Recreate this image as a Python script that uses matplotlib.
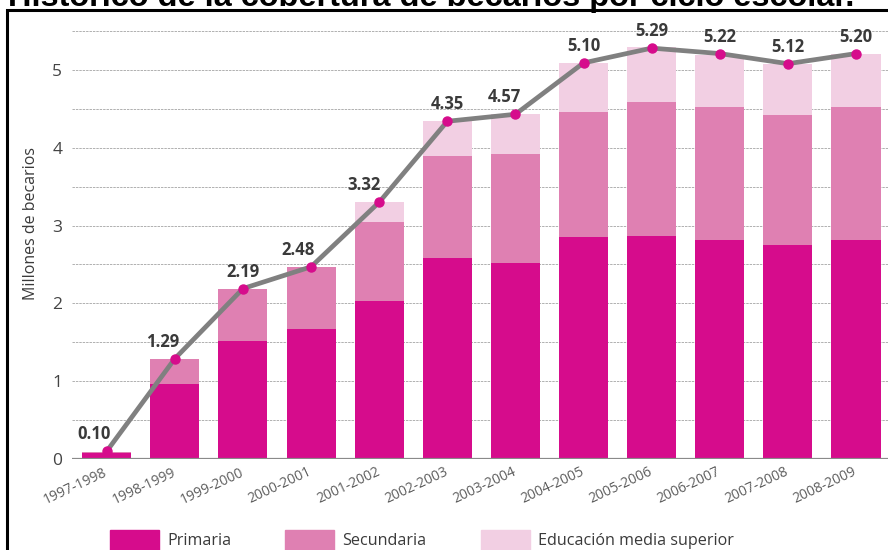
import numpy as np
import matplotlib
matplotlib.use("Agg")
import matplotlib.pyplot as plt
from matplotlib.patches import Rectangle, Patch

# Datos (millones de becarios por ciclo escolar)
ciclos = ["1997-1998", "1998-1999", "1999-2000", "2000-2001", "2001-2002", "2002-2003",
          "2003-2004", "2004-2005", "2005-2006", "2006-2007", "2007-2008", "2008-2009"]
primaria = [0.08, 0.96, 1.52, 1.67, 2.03, 2.58, 2.52, 2.85, 2.86, 2.82, 2.75, 2.82]
secundaria = [0.01, 0.33, 0.67, 0.80, 1.02, 1.31, 1.40, 1.61, 1.73, 1.70, 1.67, 1.70]
media_superior = [0.00, 0.00, 0.00, 0.00, 0.25, 0.45, 0.51, 0.63, 0.71, 0.67, 0.66, 0.69]
total_linea = [0.10, 1.29, 2.19, 2.47, 3.30, 4.34, 4.43, 5.09, 5.28, 5.21, 5.08, 5.21]
etiquetas = ["0.10", "1.29", "2.19", "2.48", "3.32", "4.35", "4.57", "5.10", "5.29", "5.22", "5.12", "5.20"]

c_prim = "#D60C8C"
c_sec = "#DF80B2"
c_ems = "#F2CFE3"
c_texto = "#3a3a3a"

plt.rcParams['font.family'] = ['Open Sans', 'DejaVu Sans']

fig = plt.figure(figsize=(8.88, 5.5), dpi=100)
W, H = 888, 550
ax = fig.add_axes([72 / W, 91 / H, (888 - 72) / W, 428 / H])

x = np.arange(len(ciclos))
prim = np.array(primaria)
sec = np.array(secundaria)
ems = np.array(media_superior)

ax.bar(x, prim, width=0.72, color=c_prim, zorder=2)
ax.bar(x, sec, width=0.72, bottom=prim, color=c_sec, zorder=2)
ax.bar(x, ems, width=0.72, bottom=prim + sec, color=c_ems, zorder=2)

ax.plot(x, total_linea, color="#808080", lw=3.4, zorder=3, solid_capstyle='round')
ax.plot(x, total_linea, 'o', color=c_prim, ms=6.5, zorder=4)

# etiquetas de valor (algunas desplazadas a la izquierda como en el original)
desplaz = [-13, -12, 0, -13, -15, 0, -11, 0, 0, 0, 0, 0]
for xi, yi, et, dx in zip(x, total_linea, etiquetas, desplaz):
    ax.annotate(et, (xi, yi), xytext=(dx, 17), textcoords='offset pixels',
                ha='center', va='center', fontsize=12, fontweight='bold',
                color=c_texto, zorder=5)

ax.set_xlim(-0.51, 11.47)
ax.set_ylim(0, 5.5)
ax.set_yticks([0, 1, 2, 3, 4, 5])
ax.set_yticks(np.arange(0.5, 5.6, 1.0), minor=True)
ax.grid(axis='y', which='both', color='#b0b0b0', lw=0.7, linestyle=(0, (2.5, 1)), zorder=0)
ax.axhline(0, color='#8a8a8a', lw=1.6, zorder=3)
for s in ax.spines.values():
    s.set_visible(False)
ax.tick_params(axis='y', which='both', length=0, pad=7, labelsize=12.5, labelcolor='#444444')
ax.tick_params(axis='x', length=0)
ax.set_xticks(x)
ax.set_xticklabels(ciclos, rotation=25, ha='right', va='center', rotation_mode='anchor',
                   fontsize=10, color='#5e5e5e')
ax.tick_params(axis='x', pad=9)

ax.set_ylabel("Millones de becarios", fontsize=11.5, color=c_texto)
ax.yaxis.set_label_coords(-0.040, 0.55)

# leyenda
handles = [Patch(color=c_prim), Patch(color=c_sec), Patch(color=c_ems)]
fig.legend(handles, ["Primaria", "Secundaria", "Educación media superior"],
           loc='center left', bbox_to_anchor=(110 / W, 10 / H), ncol=3, frameon=False,
           fontsize=11.6, handlelength=3.05, handleheight=1.5, handletextpad=0.5,
           columnspacing=3.35, borderpad=0, borderaxespad=0, labelcolor=c_texto)

# marco y título recortado
fig.patches.append(Rectangle((6.5 / W, -0.1), 1.2, 1.1 - 10.5 / H, transform=fig.transFigure,
                             fill=False, edgecolor='black', lw=2.2))
fig.text(8 / W, 1 - 6 / H, "Histórico de la cobertura de becarios por ciclo escolar.",
         ha='left', va='baseline', fontsize=23.4, fontweight='bold',
         family=['Liberation Sans', 'DejaVu Sans'], color='black')

fig.savefig("out.png", dpi=100)
